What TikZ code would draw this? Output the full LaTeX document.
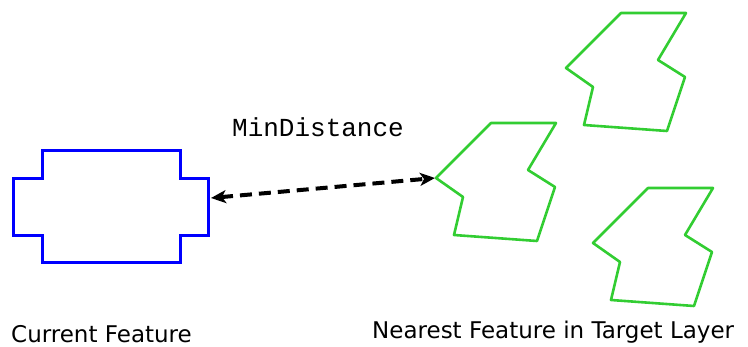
\documentclass[tikz,border=0pt]{standalone}
\usepackage{fontspec}
\setmainfont{DejaVu Sans}
\newfontfamily\codefont{Liberation Mono}
\usepackage{tikz}
\usetikzlibrary{arrows.meta,positioning}
\definecolor{featblue}{RGB}{0,0,255}
\definecolor{featgreen}{RGB}{50,205,50}

\begin{document}
\begin{tikzpicture}[x=1pt,y=-1pt,>=Stealth,
  current/.style={draw=featblue,line width=3pt,line join=miter},
  target/.style={draw=featgreen,line width=2.6pt,line join=round},
  label/.style={font=\fontsize{23}{26}\selectfont,inner sep=0pt},
  gap/.style={dashed,dash pattern=on 12pt off 7pt,line width=4pt}]
  \useasboundingbox (0,0) rectangle (748,347);
  % current feature (blue)
  \draw[current] (13,179) -- (42,179) -- (42,151) -- (180,151) -- (180,179)
    -- (208,179) -- (208,236) -- (180,236) -- (180,263) -- (42,263)
    -- (42,236) -- (13,236) -- cycle;
  \coordinate (cur) at (211,198);
  % target layer features (green)
  \foreach \dx/\dy/\name in {0/0/near,130/-110/tgtA,157/65/tgtB}{
    \begin{scope}[shift={(\dx,\dy)}]
      \draw[target] (436,178) coordinate (\name) -- (491,123) -- (556,123)
        -- (528,170) -- (555,187) -- (537,241) -- (454,235) -- (463,197) -- cycle;
    \end{scope}
  }
  % minimum distance
  \draw[gap,{Stealth[length=15pt,width=13pt,inset=4pt]}-{Stealth[length=15pt,width=13pt,inset=4pt]}]
    (cur) -- ([xshift=-1pt]near);
  \node[inner sep=0pt,anchor=base,font=\codefont\fontsize{26}{28}\selectfont]
    (dist) at (318,137) {MinDistance};
  \node[label,anchor=base west] (curlbl) at (11,343) {Current Feature};
  \node[label,anchor=base west] (nearlbl) at (372,339) {Nearest Feature in Target Layer};
\end{tikzpicture}
\end{document}
